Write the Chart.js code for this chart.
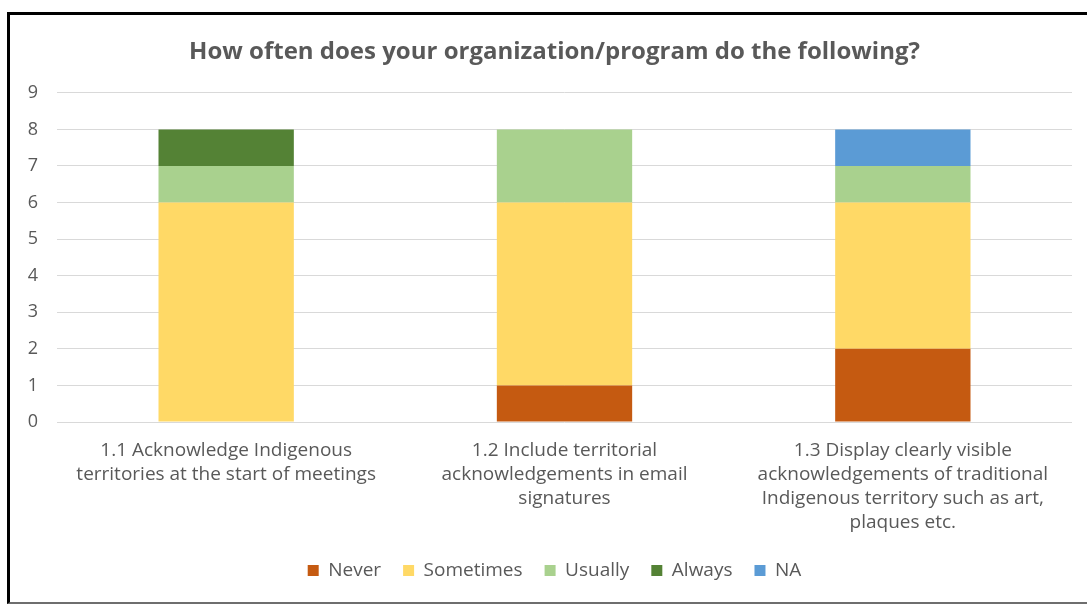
<!DOCTYPE html>
<html>
<head>
<meta charset="utf-8">
<script src="https://cdn.jsdelivr.net/npm/chart.js@4"></script>
<style>
  html, body { margin: 0; padding: 0; background: #fff; }
  #wrap { position: relative; width: 1087px; height: 605px; overflow: hidden; }
  #frame {
    position: absolute; left: 7px; top: 12px; width: 1090px; height: 587px;
    border-left: 3px solid #000; border-top: 3px solid #000; border-bottom: 2px solid #6e6e6e;
    pointer-events: none;
  }
  canvas { position: absolute; left: 0; top: 0; }
</style>
</head>
<body>
<div id="wrap">
  <canvas id="surveyChart" width="1087" height="605"></canvas>
  <div id="frame"></div>
</div>
<script>
// Survey question labels (wrapped as on the axis)
const categories = [
    ['1.1 Acknowledge Indigenous', 'territories at the start of meetings'],
    ['1.2 Include territorial', 'acknowledgements in email', 'signatures'],
    ['1.3 Display clearly visible', 'acknowledgements of traditional', 'Indigenous territory such as art,', 'plaques etc.']
];

// Response counts per question
const never = [0, 1, 2];
const sometimes = [6, 5, 4];
const usually = [1, 2, 1];
const always = [1, 0, 0];
const notApplicable = [0, 0, 1];

const yTicks = [0, 1, 2, 3, 4, 5, 6, 7, 8, 9];

const textGrey = '#595959';
const fontFamily = '"Open Sans", Lato, sans-serif';

const ctx = document.getElementById('surveyChart').getContext('2d');

// the y axis box is narrow so title/legend centre further right;
// widen it after layout so its labels are not clipped
const widenYAxis = {
    id: 'widenYAxis',
    afterLayout: function (chart) {
        chart.scales.y.left = 10;
    }
};

const surveyChart = new Chart(ctx, {
    type: 'bar',
    data: {
        labels: categories,
        datasets: [
            { label: 'Never', data: never, backgroundColor: '#C55A11' },
            { label: 'Sometimes', data: sometimes, backgroundColor: '#FFD966' },
            { label: 'Usually', data: usually, backgroundColor: '#A9D18E' },
            { label: 'Always', data: always, backgroundColor: '#548235' },
            { label: 'NA', data: notApplicable, backgroundColor: '#5B9BD5' }
        ]
    },
    plugins: [widenYAxis],
    options: {
        responsive: false,
        animation: false,
        barPercentage: 0.4,
        categoryPercentage: 1,
        layout: {
            padding: { left: 37, right: 15, top: 14, bottom: 15 }
        },
        scales: {
            x: {
                stacked: true,
                grid: { display: false, drawTicks: false },
                border: { display: false },
                ticks: {
                    color: textGrey,
                    font: { family: fontFamily, size: 19, lineHeight: 1.263 },
                    maxRotation: 0,
                    autoSkip: false,
                    padding: 17
                },
                afterFit: function (scale) {
                    scale.height = 117;
                }
            },
            y: {
                stacked: true,
                min: yTicks[0],
                max: yTicks[yTicks.length - 1],
                grid: { color: '#d9d9d9', lineWidth: 1, drawTicks: false },
                border: { display: false },
                ticks: {
                    stepSize: 1,
                    color: textGrey,
                    font: { family: fontFamily, size: 18 },
                    padding: 19
                },
                afterFit: function (scale) {
                    scale.width = 20;
                }
            }
        },
        plugins: {
            title: {
                display: true,
                text: 'How often does your organization/program do the following?',
                color: textGrey,
                font: { family: fontFamily, size: 24, weight: 'bold' },
                padding: { top: 24, bottom: 26 }
            },
            legend: {
                position: 'bottom',
                onClick: null,
                labels: {
                    color: textGrey,
                    font: { family: fontFamily, size: 19 },
                    boxWidth: 11,
                    boxHeight: 11,
                    padding: 22
                }
            },
            tooltip: { enabled: false }
        }
    }
});
</script>
</body>
</html>
